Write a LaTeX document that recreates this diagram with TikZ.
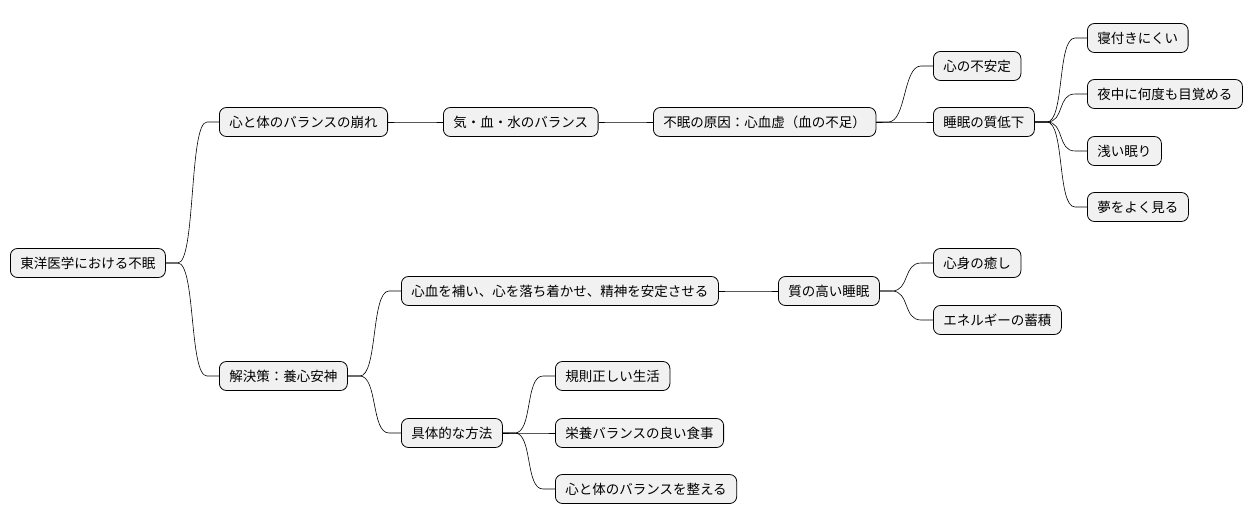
\documentclass[tikz,border=0pt]{standalone}
\usepackage{fontspec}
\setmainfont{Noto Sans CJK JP}
\begin{document}
\begin{tikzpicture}[x=1pt,y=-1pt,
  box/.style={draw=black,fill={rgb,255:red,241;green,241;blue,241},rounded corners=7pt,
    minimum height=29pt,inner xsep=10pt,inner ysep=0pt,anchor=west,font=\fontsize{13.5pt}{16pt}\selectfont,line width=0.8pt},
  con/.style={draw=black,line width=0.6pt}]
\useasboundingbox (0,0) rectangle (1258,527);
\node[box] (r) at (10,263) {東洋医学における不眠};
\node[box] (a) at (219,122) {心と体のバランスの崩れ};
\node[box] (b) at (219,376) {解決策：養心安神};
\node[box] (a1) at (443,122) {気・血・水のバランス};
\node[box] (a2) at (653,122) {不眠の原因：心血虚（血の不足）};
\node[box] (a3) at (933,66) {心の不安定};
\node[box] (a4) at (933,122) {睡眠の質低下};
\node[box] (s1) at (1087,38) {寝付きにくい};
\node[box] (s2) at (1087,94) {夜中に何度も目覚める};
\node[box] (s3) at (1087,151) {浅い眠り};
\node[box] (s4) at (1087,207) {夢をよく見る};
\node[box] (b1) at (401,291) {心血を補い、心を落ち着かせ、精神を安定させる};
\node[box] (b2) at (778,291) {質の高い睡眠};
\node[box] (b3) at (933,263) {心身の癒し};
\node[box] (b4) at (933,320) {エネルギーの蓄積};
\node[box] (c) at (401,433) {具体的な方法};
\node[box] (c1) at (555,376) {規則正しい生活};
\node[box] (c2) at (555,433) {栄養バランスの良い食事};
\node[box] (c3) at (555,489) {心と体のバランスを整える};
\foreach \p/\c in {r/a,r/b,a/a1,a1/a2,a2/a3,a2/a4,a4/s1,a4/s2,a4/s3,a4/s4,b/b1,b1/b2,b2/b3,b2/b4,b/c,c/c1,c/c2,c/c3}
  \draw[con] (\p.east) -- ++(12,0) .. controls +(18,0) and +(-18,0) .. ([xshift=-12pt]\c.west) -- (\c.west);
\end{tikzpicture}
\end{document}
